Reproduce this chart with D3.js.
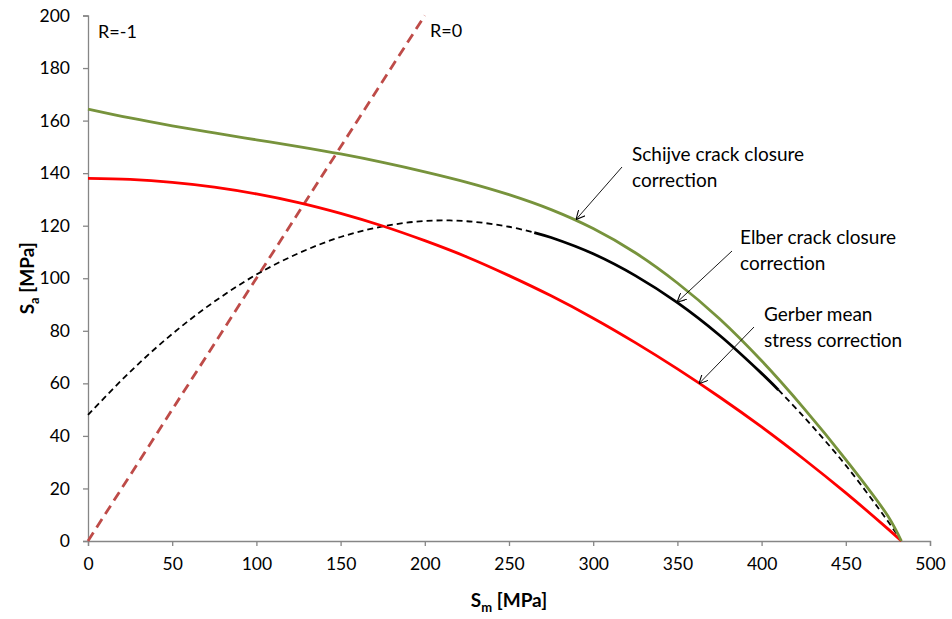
<!DOCTYPE html>
<html>
<head>
<meta charset="utf-8">
<script src="https://cdn.jsdelivr.net/npm/d3@7"></script>
<style>
  html, body { margin: 0; padding: 0; background: #fff; }
  svg { display: block; font-family: Lato, "Open Sans", sans-serif; }
</style>
</head>
<body>
<svg id="chart" width="952" height="619"></svg>
<script>
// Mean stress (Sm) sample points, MPa
const smGerber = [0, 25, 50, 75, 100, 125, 150, 175, 200, 225, 250, 275, 300, 325, 350, 375, 400, 425, 450, 475, 483];
// Gerber mean stress correction, stress amplitude Sa (MPa)
const saGerber = [138, 137.6, 136.5, 134.7, 132.1, 128.8, 124.7, 119.9, 114.3, 108.1, 101.0, 93.3, 84.8, 75.5, 65.5, 54.8, 43.4, 31.2, 18.3, 4.6, 0];

// Schijve crack closure correction
const smSchijve = [0, 25, 50, 75, 100, 125, 150, 175, 200, 225, 250, 275, 300, 325, 350, 375, 400, 425, 450, 475, 483];
const saSchijve = [164.4, 161.0, 158.0, 155.3, 152.7, 150.1, 147.3, 144.1, 140.5, 136.5, 131.8, 126.1, 118.9, 109.7, 98.2, 84.6, 68.6, 50.6, 31.0, 9.5, 0];

// Elber crack closure correction (solid over its valid range, dashed outside)
const smElber = [0, 25, 50, 75, 100, 125, 150, 175, 200, 225, 250, 265, 275, 300, 325, 350, 375, 400, 410, 425, 450, 475, 483];
const saElber = [48, 64.4, 78.8, 91.1, 101.4, 109.5, 115.7, 119.7, 121.8, 121.7, 119.6, 117.4, 115.5, 109.3, 101, 90.7, 78.3, 63.8, 57.5, 47.3, 28.8, 7.5, 0];
const elberValidRange = [265, 410];

// Stress ratio lines: R = -1 is the Sa axis, R = 0 is Sa = Sm
const smR0 = [0, 200];
const saR0 = [0, 200];

const xTicks = [0, 50, 100, 150, 200, 250, 300, 350, 400, 450, 500];
const yTicks = [0, 20, 40, 60, 80, 100, 120, 140, 160, 180, 200];

const svg = d3.select("#chart");
const margin = { left: 88, right: 22, top: 15.5, bottom: 78 };
const W = 952, H = 619;

const x = d3.scaleLinear().domain([0, 500]).range([margin.left, W - margin.right]);
const y = d3.scaleLinear().domain([0, 200]).range([H - margin.bottom, margin.top]);

const axisColor = "#868686";
const font = "Lato, 'Open Sans', sans-serif";

// Axes
const xAxis = svg.append("g")
  .attr("transform", `translate(0,${y(0)})`)
  .call(d3.axisBottom(x).tickValues(xTicks).tickSize(5).tickPadding(12).tickFormat(d3.format("d")));
const yAxis = svg.append("g")
  .attr("transform", `translate(${x(0)},0)`)
  .call(d3.axisLeft(y).tickValues(yTicks).tickSize(5).tickPadding(13).tickFormat(d3.format("d")));
[xAxis, yAxis].forEach(g => {
  g.select(".domain").attr("stroke", axisColor).attr("stroke-width", 1.3);
  g.selectAll(".tick line").attr("stroke", axisColor).attr("stroke-width", 1.3);
  g.selectAll(".tick text").attr("fill", "#000").style("font-size", "17.5px").style("font-family", font);
});

const line = d3.line().x(d => x(d[0])).y(d => y(d[1])).curve(d3.curveCatmullRom.alpha(0.5));
const zip = (a, b) => a.map((v, i) => [v, b[i]]);

// R = 0 line
svg.append("path")
  .datum(zip(smR0, saR0))
  .attr("d", d3.line().x(d => x(d[0])).y(d => y(d[1])))
  .attr("fill", "none").attr("stroke", "#BE4B48").attr("stroke-width", 2.8)
  .attr("stroke-dasharray", "10,6");

// Elber: dashed outside the valid range
const elber = zip(smElber, saElber);
const elberLeft = elber.filter(d => d[0] <= elberValidRange[0]);
const elberRight = elber.filter(d => d[0] >= elberValidRange[1]);
const elberMid = elber.filter(d => d[0] >= elberValidRange[0] && d[0] <= elberValidRange[1]);
[elberLeft, elberRight].forEach(seg => {
  svg.append("path").datum(seg).attr("d", line)
    .attr("fill", "none").attr("stroke", "#000").attr("stroke-width", 1.8)
    .attr("stroke-dasharray", "6,4");
});

// Gerber
svg.append("path").datum(zip(smGerber, saGerber)).attr("d", line)
  .attr("fill", "none").attr("stroke", "#FF0000").attr("stroke-width", 2.8);

// Elber solid part
svg.append("path").datum(elberMid).attr("d", line)
  .attr("fill", "none").attr("stroke", "#000").attr("stroke-width", 2.8);

// Schijve
svg.append("path").datum(zip(smSchijve, saSchijve)).attr("d", line)
  .attr("fill", "none").attr("stroke", "#77933C").attr("stroke-width", 2.8);

// Axis titles
const xt = svg.append("text")
  .attr("x", (x(0) + x(500)) / 2).attr("y", 607)
  .attr("text-anchor", "middle").style("font-size", "19px").style("font-weight", "bold");
xt.append("tspan").text("S");
xt.append("tspan").text("m").attr("dy", 5).style("font-size", "13px");
xt.append("tspan").text(" [MPa]").attr("dy", -5);

const yt = svg.append("text")
  .attr("transform", `translate(34,${(y(0) + y(200)) / 2}) rotate(-90)`)
  .attr("text-anchor", "middle").style("font-size", "19px").style("font-weight", "bold");
yt.append("tspan").text("S");
yt.append("tspan").text("a").attr("dy", 5).style("font-size", "13px");
yt.append("tspan").text(" [MPa]").attr("dy", -5);

// Stress ratio labels
svg.append("text").attr("x", 98).attr("y", 37.5).style("font-size", "18px").text("R=-1");
svg.append("text").attr("x", 430).attr("y", 37).style("font-size", "18px").text("R=0");

// Arrow marker
svg.append("defs").append("marker")
  .attr("id", "arr").attr("viewBox", "0 0 10 10").attr("refX", 9.5).attr("refY", 5)
  .attr("markerWidth", 9).attr("markerHeight", 9).attr("markerUnits", "userSpaceOnUse")
  .attr("orient", "auto")
  .append("path").attr("d", "M0,0 L10,5 L0,10").attr("fill", "none").attr("stroke", "#000").attr("stroke-width", 1.2);

// Annotations: label lines, arrow start, arrow target (data coords)
const notes = [
  { lines: ["Schijve crack closure", "correction"], tx: 632, ty: 161, from: [622, 167], to: [290, 122.5] },
  { lines: ["Elber crack closure", "correction"], tx: 740, ty: 244, from: [732, 251], to: [350, 91] },
  { lines: ["Gerber mean", "stress correction"], tx: 764, ty: 321, from: [754, 327], to: [363, 60] }
];
notes.forEach(n => {
  const t = svg.append("text").attr("x", n.tx).attr("y", n.ty).style("font-size", "19px");
  n.lines.forEach((s, i) => t.append("tspan").attr("x", n.tx).attr("dy", i === 0 ? 0 : 25.5).text(s));
  svg.append("line")
    .attr("x1", n.from[0]).attr("y1", n.from[1])
    .attr("x2", x(n.to[0])).attr("y2", y(n.to[1]))
    .attr("stroke", "#000").attr("stroke-width", 0.9)
    .attr("marker-end", "url(#arr)");
});
</script>
</body>
</html>
